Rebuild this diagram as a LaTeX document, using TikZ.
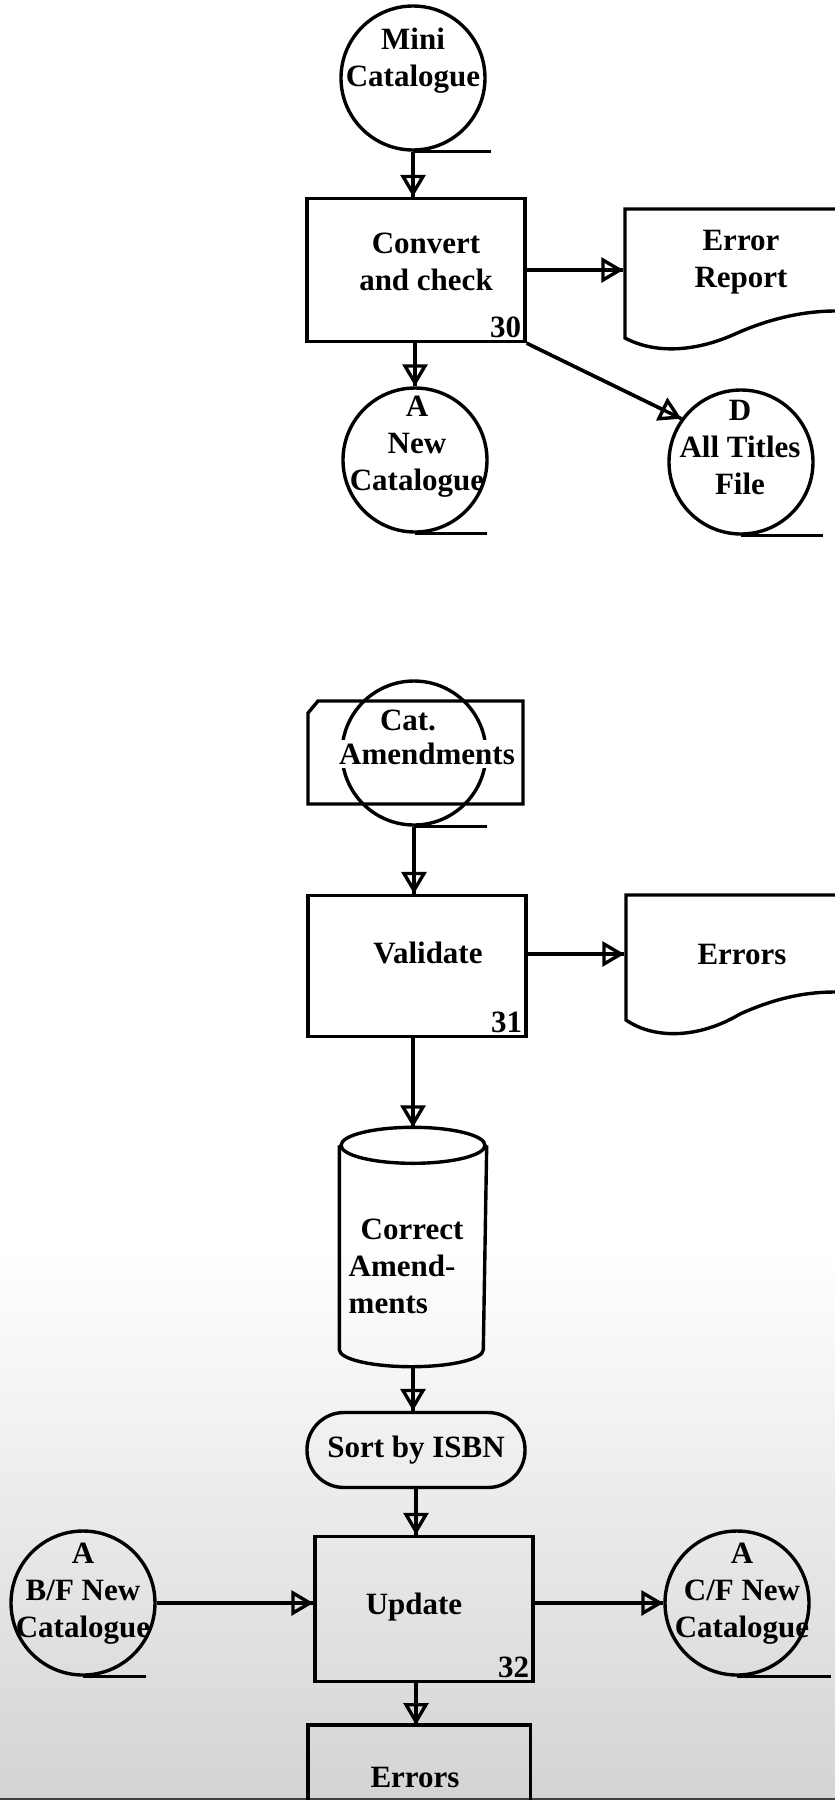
\documentclass[tikz,border=0pt]{standalone}
\usepackage{fontspec}
\setmainfont{Liberation Serif}
\usetikzlibrary{arrows.meta}

\begin{document}
\begin{tikzpicture}[x=1pt,y=-1pt,line width=3.4pt,
  tape/.style={circle,draw,minimum size=144pt,inner sep=0pt},
  procbox/.style={rectangle,draw,minimum width=218pt,minimum height=143pt},
  lbl/.style={font=\bfseries\fontsize{31}{37}\selectfont,align=center,inner sep=0pt},
  stepno/.style={lbl,anchor=south east,inner sep=4pt},
  doc/.style={lbl,minimum width=232pt},
  flow/.style={postaction={draw,-{Triangle[open,length=22pt,width=25pt]}}}]
  \useasboundingbox (0,0) rectangle (835,1800);
  \fill[white] (0,0) rectangle (835,1800);
  \shade[top color=white,bottom color=black!17] (0,1250) rectangle (835,1800);
  \draw[black!75,line width=2pt] (0,1799) -- (835,1799);

  \node[tape] (mini) at (413,78) {};
  \draw (mini.south) -- ++(78,0);
  \node[lbl] (minit) at (413,61) {Mini\\Catalogue};
  \node[procbox] (convert) at (416,270) {};
  \node[lbl] (convertt) at (426,262) {Convert\\and check};
  \node[stepno] (s30) at (convert.south east) {30};
  \node[doc] (errrep) at (741,262) {Error\\Report};
  \draw (835,209) -- (625,209) -- (625,338) .. controls (655,354) and (695,352) .. (735,334)
    .. controls (775,316) and (810,311) .. (835,311);
  \node[tape] (newcat) at (415,460) {};
  \draw (newcat.south) -- ++(72,0);
  \node[lbl] (newcatt) at (417,447) {A\\New\\Catalogue};
  \node[tape] (alltitles) at (741,462) {};
  \draw (alltitles.south) -- ++(82,0);
  \node[lbl] (alltitlest) at (740,447) {D\\All Titles\\File};
  \draw[flow] (mini.south) -- (mini.south |- convert.north);
  \draw[flow] (convert.east) -- (convert.east -| errrep.west);
  \draw[flow] (newcat.north |- convert.south) -- (newcat.north);
  \draw[flow] (convert.south east) -- (alltitles.144);

  \draw (308,713) -- (318,701) -- (523,701) -- (523,804) -- (308,804) -- cycle;
  \node[tape] (amend) at (414,753) {};
  \draw (amend.south) -- ++(73,0);
  \node[lbl] (amendt1) at (408,720) {Cat.};
  \node[lbl,fill=white,inner sep=3pt] (amendt2) at (427,754) {Amendments};
  \node[procbox,minimum height=141pt] (validate) at (417,966) {};
  \node[lbl] (validatet) at (428,953) {Validate};
  \node[stepno] (s31) at (validate.south east) {31};
  \node[doc] (errdoc) at (742,954) {Errors};
  \draw (835,895) -- (626,895) -- (626,1020) .. controls (655,1040) and (700,1038) .. (740,1014)
    .. controls (780,996) and (810,992) .. (835,992);
  \draw[flow] (amend.south) -- (amend.south |- validate.north);
  \draw[flow] (validate.east |- errdoc.west) -- (errdoc.west);

  \node[minimum width=144pt,minimum height=236pt,inner sep=0pt] (correct) at (413,1247) {};
  \draw ([yshift=-18pt]correct.north) ellipse [x radius=72pt,y radius=18pt];
  \draw ([yshift=-18pt]correct.north west) -- ([yshift=17pt]correct.south west)
    arc[start angle=180,end angle=360,x radius=72pt,y radius=17pt] -- ([yshift=-18pt]correct.north east);
  \node[lbl,align=left,anchor=west] (correctt) at (347,1266) {\hspace*{12pt}Correct\\Amend-\\ments};
  \draw[flow] (correct.north |- validate.south) -- (correct.north);
  \node[lbl,rectangle,draw,rounded corners=37pt,minimum width=218pt,minimum height=75pt] (sort) at (416,1450) {Sort by ISBN};
  \draw[flow] (correct.south) -- (correct.south |- sort.north);

  \node[procbox,minimum height=145pt] (update) at (424,1609) {};
  \node[lbl] (updatet) at (414,1607) {Update};
  \node[stepno] (s32) at (update.south east) {32};
  \draw[flow] (sort.south) -- (sort.south |- update.north);
  \node[tape] (bfnew) at (83,1603) {};
  \draw (bfnew.south) -- ++(63,0);
  \node[lbl] (bfnewt) at (83,1594) {A\\B/F New\\Catalogue};
  \node[tape] (cfnew) at (737,1603) {};
  \draw (cfnew.south) -- ++(94,0);
  \node[lbl] (cfnewt) at (742,1594) {A\\C/F New\\Catalogue};
  \draw[flow] (bfnew.east) -- (bfnew.east -| update.west);
  \draw[flow] (update.east |- cfnew.west) -- (cfnew.west);
  \node[minimum width=219pt,minimum height=75pt,inner sep=0pt,anchor=north] (errbox) at (419,1725) {};
  \draw (errbox.south west) -- (errbox.north west) -- (errbox.north east) -- (errbox.south east);
  \node[lbl] (errors) at (415,1777) {Errors};
  \draw[flow] (update.south -| sort.south) -- (errbox.north -| sort.south);
\end{tikzpicture}
\end{document}
